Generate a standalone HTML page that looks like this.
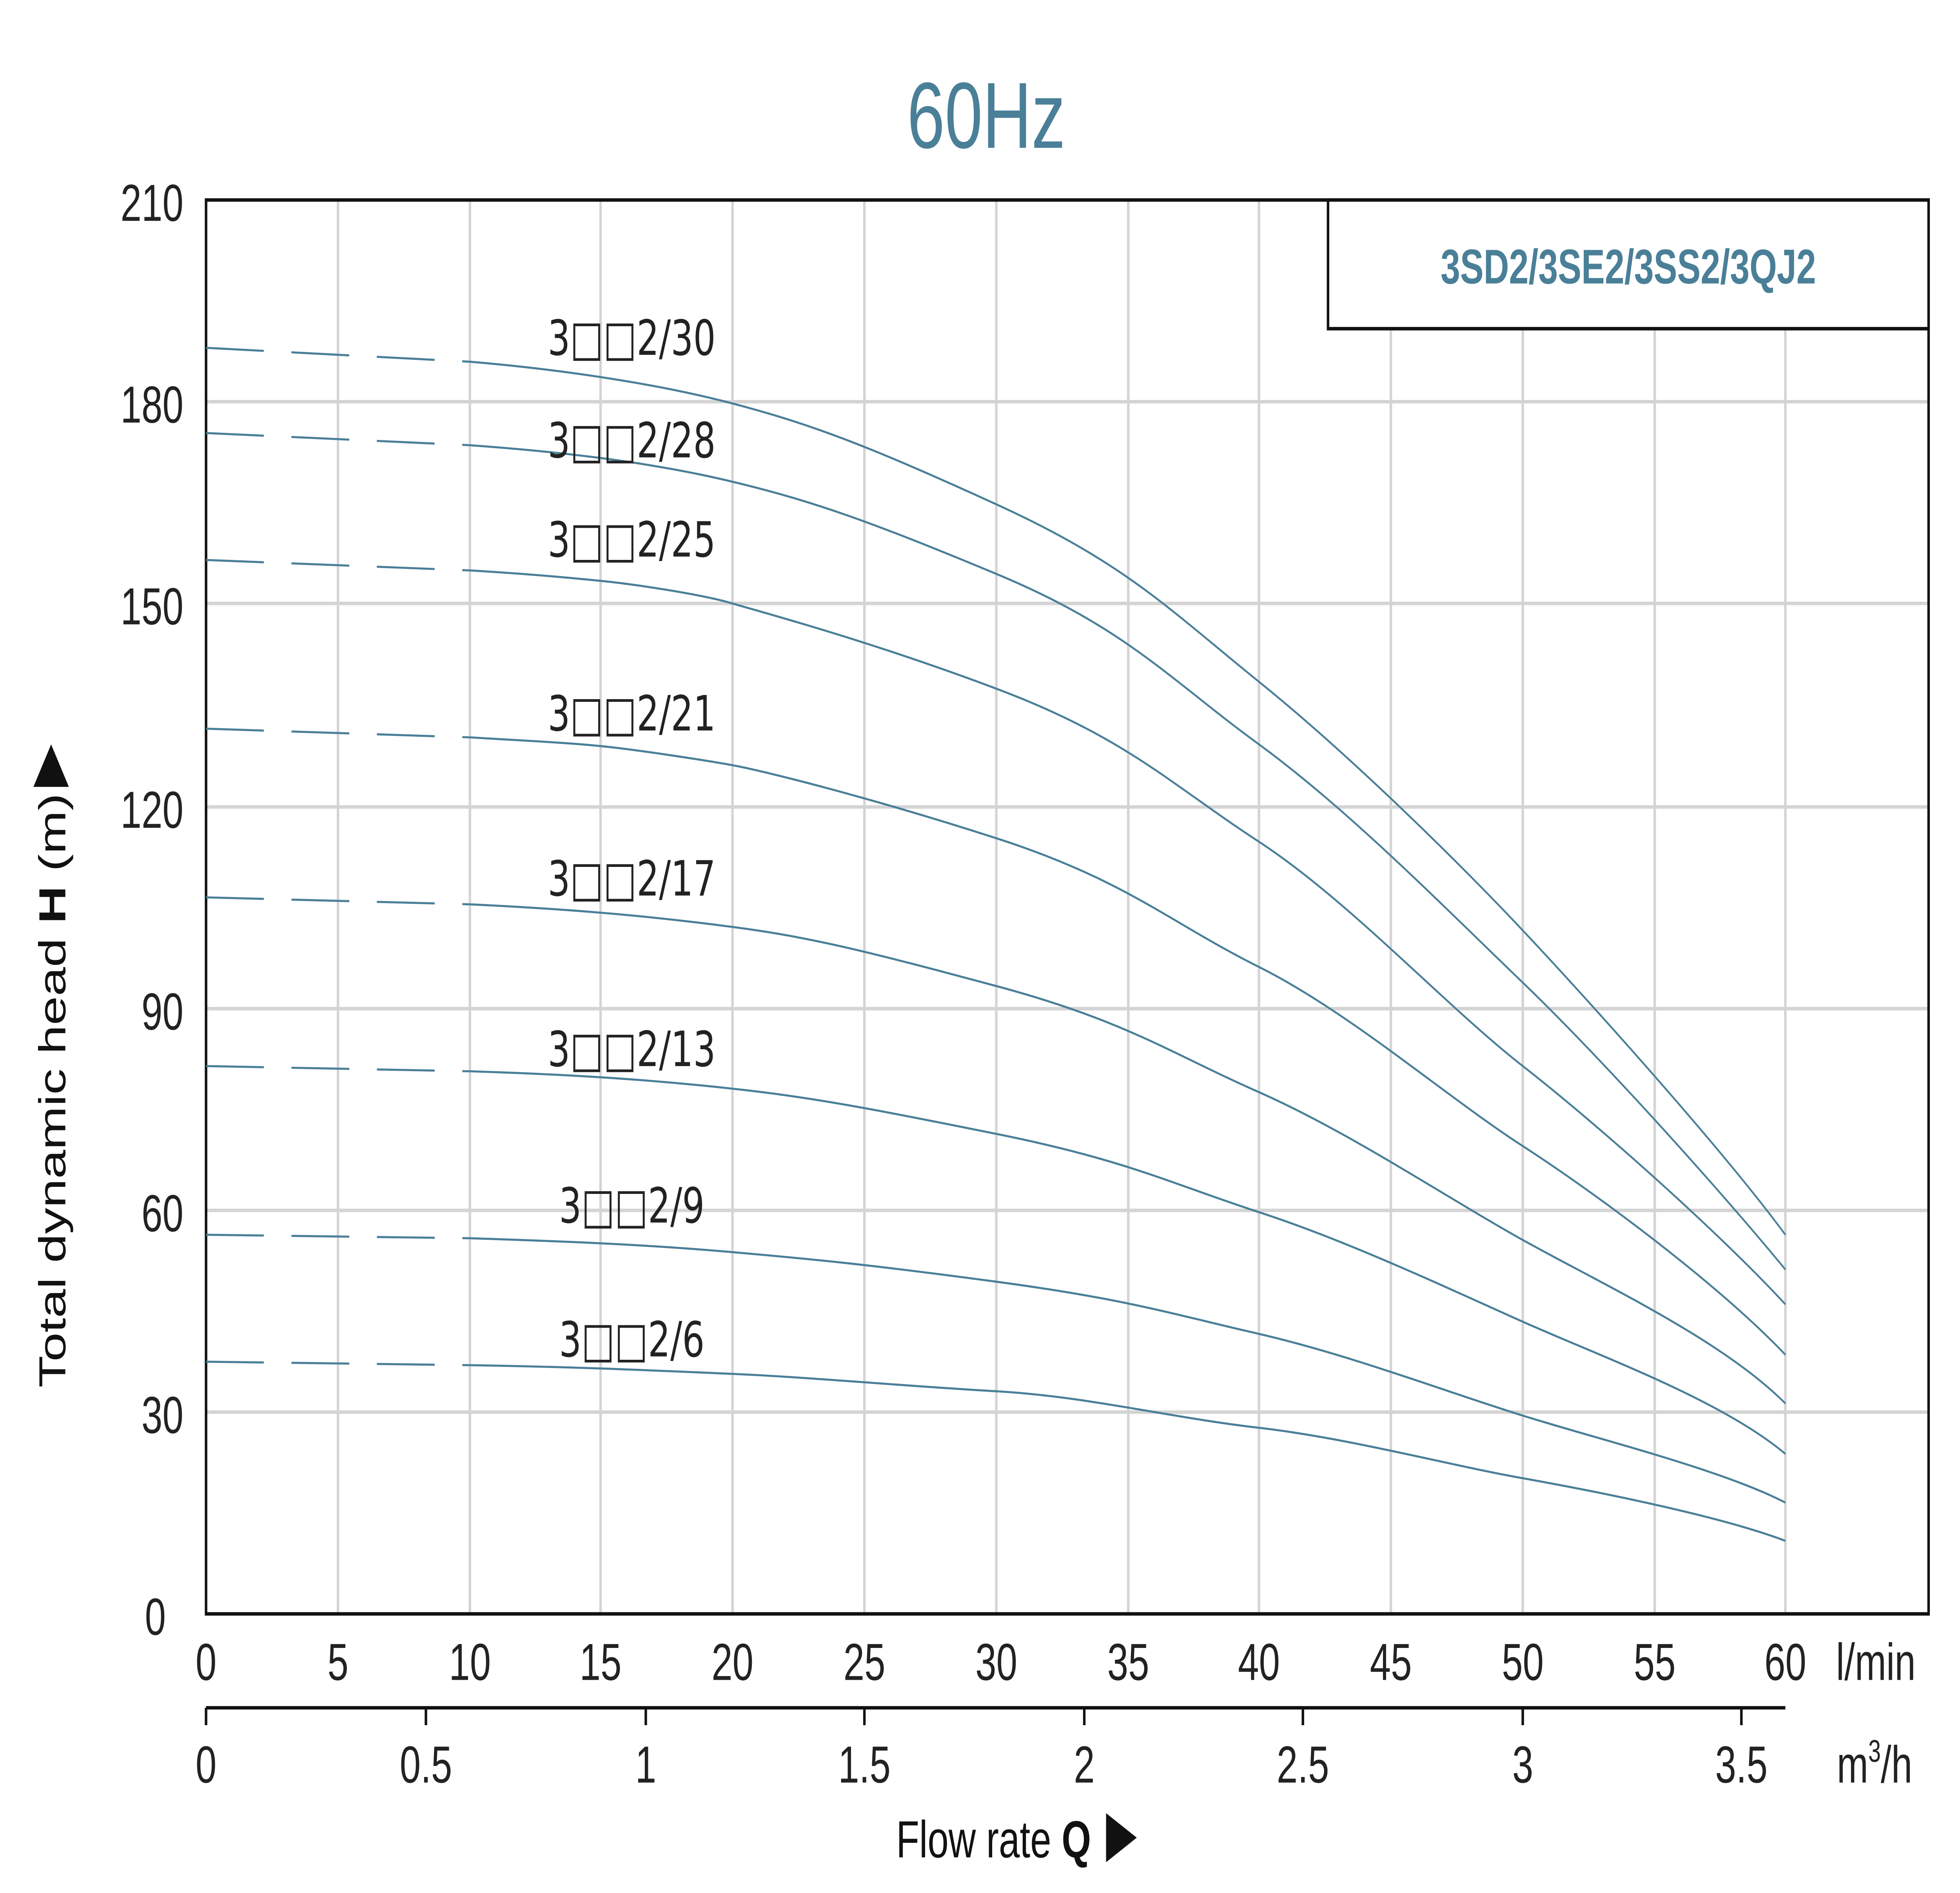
<!DOCTYPE html>
<html><head><meta charset="utf-8"><style>
html,body{margin:0;padding:0;background:#fff;width:100%;height:100%;overflow:hidden}
svg{display:block;position:fixed;left:0;top:0;width:100vw;height:100vh}
</style></head>
<body>
<svg viewBox="0 0 1560 1088.5" preserveAspectRatio="none" xmlns="http://www.w3.org/2000/svg" font-family="'Liberation Sans', 'Noto Sans CJK SC', sans-serif">
<rect width="1560" height="1089" fill="#fff"/>
<text x="785" y="85" font-size="54" fill="#4a7f98" text-anchor="middle">60Hz</text>
<g stroke="#d4d4d4" stroke-width="2">
<line x1="269" y1="115" x2="269" y2="928"/><line x1="374" y1="115" x2="374" y2="928"/><line x1="478" y1="115" x2="478" y2="928"/><line x1="583" y1="115" x2="583" y2="928"/><line x1="688" y1="115" x2="688" y2="928"/><line x1="793" y1="115" x2="793" y2="928"/><line x1="898" y1="115" x2="898" y2="928"/><line x1="1002" y1="115" x2="1002" y2="928"/><line x1="1107" y1="189" x2="1107" y2="928"/><line x1="1212" y1="189" x2="1212" y2="928"/><line x1="1317" y1="189" x2="1317" y2="928"/><line x1="1421" y1="189" x2="1421" y2="928"/>
<line x1="164" y1="231" x2="1535" y2="231"/><line x1="164" y1="347" x2="1535" y2="347"/><line x1="164" y1="464" x2="1535" y2="464"/><line x1="164" y1="580" x2="1535" y2="580"/><line x1="164" y1="696" x2="1535" y2="696"/><line x1="164" y1="812" x2="1535" y2="812"/>
</g>
<rect x="164" y="115" width="1371" height="813" fill="none" stroke="#111" stroke-width="2"/>
<rect x="1057" y="115" width="478" height="74" fill="#fff" stroke="#111" stroke-width="2"/>
<text x="1296" y="163" font-size="28" font-weight="bold" fill="#4a7f98" text-anchor="middle">3SD2/3SE2/3SS2/3QJ2</text>
<g fill="none" stroke="#4a7f98" stroke-width="1.2">
<g stroke-dasharray="46 22">
<path d="M164 200 L374 208"/><path d="M164 249 L374 256"/><path d="M164 322 L374 328"/><path d="M164 419 L374 424"/><path d="M164 516 L374 520"/><path d="M164 613 L374 616"/><path d="M164 710 L374 712"/><path d="M164 783 L374 785"/>
</g>
<path d="M374 208 C440 212 520 220 583 232 S690 256 793 290 S930 350 1002 392 S1160 495 1212 535 S1370 660 1421 710"/>
<path d="M374 256 C450 260 520 266 583 277 S690 299 793 330 S930 390 1002 428 S1150 522 1212 565 S1370 685 1421 730"/>
<path d="M374 328 C420 330 450 332 478 334 S560 342 583 347 S690 368 793 396 S930 450 1002 484 S1150 578 1212 613 S1370 710 1421 750"/>
<path d="M374 424 C420 426 450 427 478 429 S560 437 583 440 S690 458 793 482 S930 530 1002 556 S1150 630 1212 659 S1370 740 1421 779"/>
<path d="M374 520 C460 523 520 527 583 533 S690 547 793 567 S930 605 1002 628 S1150 688 1212 713 S1370 770 1421 807"/>
<path d="M374 616 C460 618 520 621 583 626 S690 637 793 652 S930 680 1002 697 S1150 740 1212 760 S1370 805 1421 836"/>
<path d="M374 712 C460 714 520 716 583 720 S690 727 793 737 S930 755 1002 767 S1150 800 1212 814 S1370 845 1421 864"/>
<path d="M374 785 C460 786 520 788 583 790 S720 797 793 800 S930 815 1002 821 S1150 842 1212 850 S1370 872 1421 886"/>
</g>
<g font-size="28" fill="#222" font-family="'DejaVu Sans','Liberation Sans',sans-serif">
<text x="436" y="204">3□□2/30</text>
<text x="436" y="263">3□□2/28</text>
<text x="436" y="320">3□□2/25</text>
<text x="436" y="420">3□□2/21</text>
<text x="436" y="515">3□□2/17</text>
<text x="436" y="613">3□□2/13</text>
<text x="445" y="703">3□□2/9</text>
<text x="445" y="780">3□□2/6</text>
</g>
<g font-size="30" fill="#222" text-anchor="end">
<text x="146" y="127">210</text><text x="146" y="243">180</text><text x="146" y="359">150</text><text x="146" y="476">120</text><text x="146" y="592">90</text><text x="146" y="708">60</text><text x="146" y="824">30</text><text x="132" y="940">0</text>
</g>
<g font-size="30" fill="#222" text-anchor="middle">
<text x="164" y="966">0</text><text x="269" y="966">5</text><text x="374" y="966">10</text><text x="478" y="966">15</text><text x="583" y="966">20</text><text x="688" y="966">25</text><text x="793" y="966">30</text><text x="898" y="966">35</text><text x="1002" y="966">40</text><text x="1107" y="966">45</text><text x="1212" y="966">50</text><text x="1317" y="966">55</text><text x="1421" y="966">60</text>
<text x="1493" y="966">l/min</text>
<text x="164" y="1025">0</text><text x="339" y="1025">0.5</text><text x="514" y="1025">1</text><text x="688" y="1025">1.5</text><text x="863" y="1025">2</text><text x="1037" y="1025">2.5</text><text x="1212" y="1025">3</text><text x="1386" y="1025">3.5</text>
<text x="1492" y="1025">m<tspan font-size="18" dy="-12">3</tspan><tspan dy="12">/h</tspan></text>
</g>
<g stroke="#111" stroke-width="2">
<line x1="164" y1="982" x2="1421" y2="982"/>
<line x1="164" y1="982" x2="164" y2="992"/><line x1="339" y1="982" x2="339" y2="992"/><line x1="514" y1="982" x2="514" y2="992"/><line x1="688" y1="982" x2="688" y2="992"/><line x1="863" y1="982" x2="863" y2="992"/><line x1="1037" y1="982" x2="1037" y2="992"/><line x1="1212" y1="982" x2="1212" y2="992"/><line x1="1386" y1="982" x2="1386" y2="992"/>
</g>
<text x="810" y="1068" font-size="30" fill="#111" text-anchor="middle">Flow rate <tspan font-weight="bold">Q</tspan> ▶</text>
<text transform="translate(52,612) rotate(-90)" font-size="30" fill="#111" text-anchor="middle">Total dynamic head <tspan font-weight="bold">H</tspan> (m)▶</text>
</svg>
</body></html>
